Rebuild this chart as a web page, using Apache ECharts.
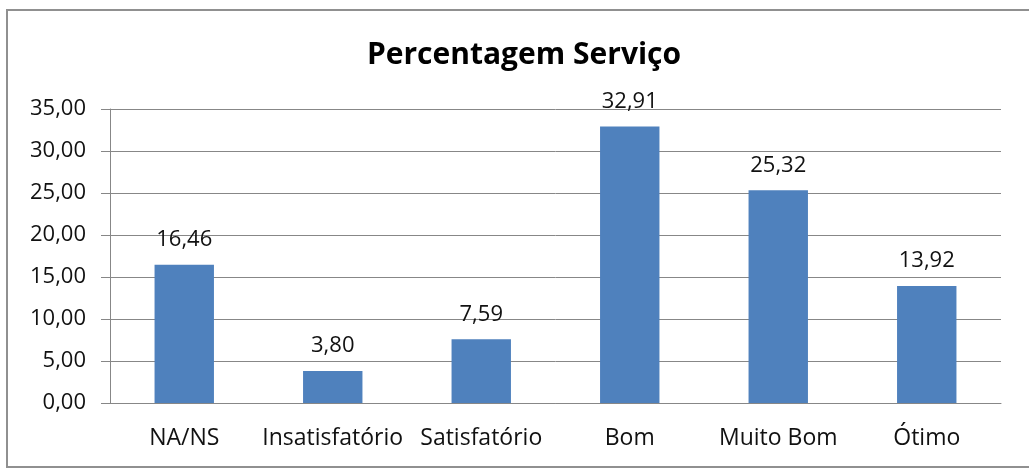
<!DOCTYPE html>
<html>
<head>
<meta charset="utf-8">
<script src="https://cdn.jsdelivr.net/npm/echarts@6/dist/echarts.min.js"></script>
<style>
  html, body { margin: 0; padding: 0; background: #fff; }
  #chart { width: 1029px; height: 469px; }
</style>
</head>
<body>
<div id="chart"></div>
<script>
const categories = ['NA/NS', 'Insatisfatório', 'Satisfatório', 'Bom', 'Muito Bom', 'Ótimo']
const percentages = [16.46, 3.80, 7.59, 32.91, 25.32, 13.92]
const titleText = 'Percentagem Serviço'

const fmt = (v) => v.toFixed(2).replace('.', ',')
const font = '"Open Sans", Lato, sans-serif'

const chart = echarts.init(document.getElementById('chart'))

chart.setOption({
  backgroundColor: '#fff',
  animation: false,
  title: {
    text: titleText,
    left: 519,
    top: 35,
    textAlign: 'center',
    textStyle: { fontFamily: font, fontSize: 30, fontWeight: 'bold', color: '#000' },
  },
  grid: { left: 110, right: 28, top: 109, bottom: 66 },
  xAxis: {
    type: 'category',
    data: categories,
    axisLine: { lineStyle: { color: '#878787', width: 1 } },
    axisTick: { length: 8, lineStyle: { color: '#878787' } },
    axisLabel: { color: '#111', fontFamily: font, fontSize: 23, margin: 24, interval: 0 },
  },
  yAxis: {
    type: 'value',
    min: 0,
    max: 35,
    interval: 5,
    axisLine: { show: true, lineStyle: { color: '#878787' } },
    axisTick: { show: true, length: 9, lineStyle: { color: '#878787' } },
    axisLabel: { color: '#111', fontFamily: font, fontSize: 22, margin: 24, formatter: fmt },
    splitLine: { lineStyle: { color: '#878787', width: 1 } },
  },
  series: [
    {
      type: 'bar',
      data: percentages,
      barCategoryGap: '60%',
      itemStyle: { color: '#4F81BD' },
      label: {
        show: true,
        position: 'top',
        distance: 14,
        color: '#111',
        fontFamily: font,
        fontSize: 22,
        formatter: (p) => fmt(p.value),
      },
    },
  ],
  graphic: [
    {
      type: 'rect',
      shape: { x: 7, y: 10, width: 1040, height: 457 },
      style: { fill: 'none', stroke: '#909090', lineWidth: 2 },
      silent: true,
    },
  ],
})
</script>
</body>
</html>
